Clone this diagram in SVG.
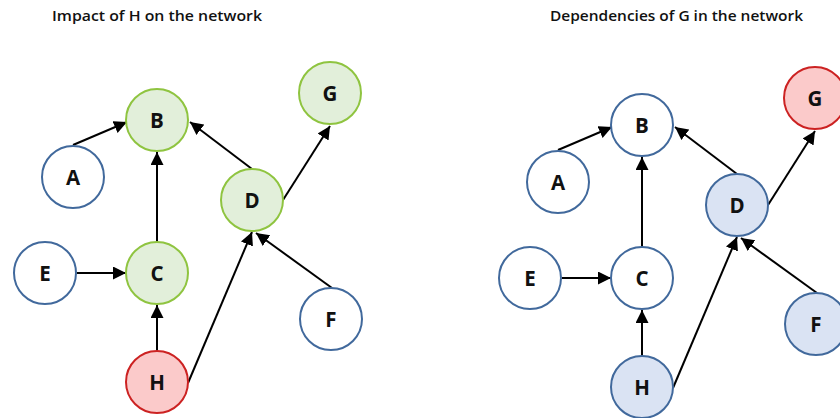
<svg xmlns="http://www.w3.org/2000/svg" width="840" height="418" viewBox="0 0 840 418">
  <style>
    .title { font-family: "Open Sans", "Liberation Sans", sans-serif; font-weight: 600; font-size: 15px; fill: #111; }
    .node circle { stroke-width: 2; }
    .plain circle { fill: #ffffff; stroke: #41699c; }
    .green circle { fill: #e2efda; stroke: #8fc440; }
    .red circle { fill: #fbcaca; stroke: #cc2222; }
    .blue circle { fill: #dae3f3; stroke: #41699c; }
    .node text { font-family: "Open Sans", "Liberation Sans", sans-serif; font-weight: 700; font-size: 20.5px; fill: #111; text-anchor: middle; dominant-baseline: central; }
    .edge { stroke: #000; stroke-width: 2; fill: none; marker-end: url(#arrow); }
  </style>
  <defs>
    <marker id="arrow" markerUnits="userSpaceOnUse" markerWidth="14" markerHeight="14" refX="13" refY="6.5" orient="auto">
      <path d="M0,0 L13,6.5 L0,13 z" fill="#000"/>
    </marker>
  </defs>
  <rect width="840" height="418" fill="#ffffff"/>

  <text class="title" x="52" y="21" textLength="210" lengthAdjust="spacingAndGlyphs">Impact of H on the network</text>
  <text class="title" x="550" y="21" textLength="253" lengthAdjust="spacingAndGlyphs">Dependencies of G in the network</text>

  <!-- Left panel: impact of H -->
  <g id="impact">
    <g id="impact-edges">
      <line class="edge" x1="73" y1="145" x2="127" y2="122"/>
      <line class="edge" x1="252" y1="169" x2="190" y2="122"/>
      <line class="edge" x1="157" y1="242" x2="157" y2="152"/>
      <line class="edge" x1="77" y1="273" x2="126" y2="273"/>
      <line class="edge" x1="157" y1="351" x2="157" y2="305"/>
      <line class="edge" x1="188" y1="383" x2="252" y2="232"/>
      <line class="edge" x1="332" y1="288" x2="256" y2="233"/>
      <line class="edge" x1="283" y1="200" x2="330" y2="126"/>
    </g>
    <g id="impact-A" class="node plain"><circle cx="73" cy="177" r="31"/><text x="73" y="177">A</text></g>
    <g id="impact-B" class="node green"><circle cx="157" cy="120" r="31"/><text x="157" y="120">B</text></g>
    <g id="impact-C" class="node green"><circle cx="157" cy="273" r="31"/><text x="157" y="273">C</text></g>
    <g id="impact-D" class="node green"><circle cx="252" cy="200" r="31"/><text x="252" y="200">D</text></g>
    <g id="impact-E" class="node plain"><circle cx="45" cy="273" r="31"/><text x="45" y="273">E</text></g>
    <g id="impact-F" class="node plain"><circle cx="331" cy="319" r="31"/><text x="331" y="319">F</text></g>
    <g id="impact-G" class="node green"><circle cx="330" cy="93" r="31"/><text x="330" y="93">G</text></g>
    <g id="impact-H" class="node red"><circle cx="157" cy="382" r="31"/><text x="157" y="382">H</text></g>
  </g>

  <!-- Right panel: dependencies of G -->
  <g id="dependencies" transform="translate(485,5)">
    <g id="dependencies-edges">
      <line class="edge" x1="73" y1="145" x2="127" y2="122"/>
      <line class="edge" x1="252" y1="169" x2="190" y2="122"/>
      <line class="edge" x1="157" y1="242" x2="157" y2="152"/>
      <line class="edge" x1="77" y1="273" x2="126" y2="273"/>
      <line class="edge" x1="157" y1="351" x2="157" y2="305"/>
      <line class="edge" x1="188" y1="383" x2="252" y2="232"/>
      <line class="edge" x1="332" y1="288" x2="256" y2="233"/>
      <line class="edge" x1="283" y1="200" x2="330" y2="126"/>
    </g>
    <g id="dep-A" class="node plain"><circle cx="73" cy="177" r="31"/><text x="73" y="177">A</text></g>
    <g id="dep-B" class="node plain"><circle cx="157" cy="120" r="31"/><text x="157" y="120">B</text></g>
    <g id="dep-C" class="node plain"><circle cx="157" cy="273" r="31"/><text x="157" y="273">C</text></g>
    <g id="dep-D" class="node blue"><circle cx="252" cy="200" r="31"/><text x="252" y="200">D</text></g>
    <g id="dep-E" class="node plain"><circle cx="45" cy="273" r="31"/><text x="45" y="273">E</text></g>
    <g id="dep-F" class="node blue"><circle cx="331" cy="319" r="31"/><text x="331" y="319">F</text></g>
    <g id="dep-G" class="node red"><circle cx="330" cy="93" r="31"/><text x="330" y="93">G</text></g>
    <g id="dep-H" class="node blue"><circle cx="157" cy="382" r="31"/><text x="157" y="382">H</text></g>
  </g>
</svg>
